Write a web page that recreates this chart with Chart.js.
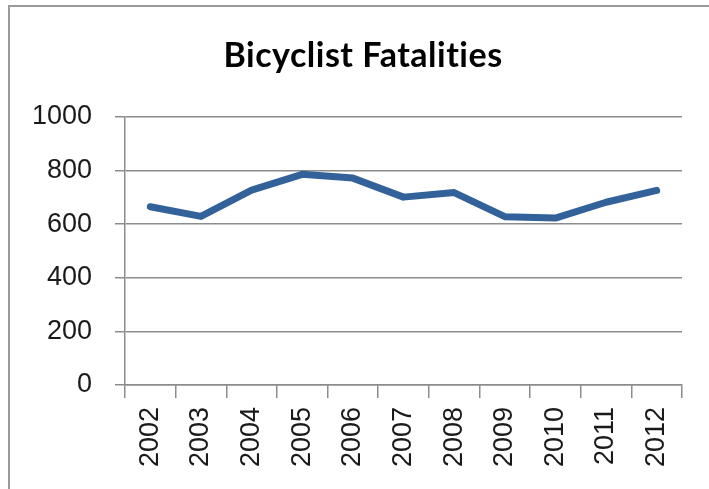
<!DOCTYPE html>
<html>
<head>
<meta charset="utf-8">
<script src="https://cdn.jsdelivr.net/npm/chart.js@4.4.1/dist/chart.umd.min.js"></script>
<style>
  html, body { margin: 0; padding: 0; background: #ffffff; }
  #wrap { position: relative; width: 709px; height: 489px; overflow: hidden; }
  #frame {
    position: absolute; left: 8px; top: 5px; width: 800px; height: 600px;
    border-left: 2px solid #9a9a9a; border-top: 2px solid #9a9a9a;
  }
  #c { position: absolute; left: 0; top: 0; }
</style>
</head>
<body>
<div id="wrap">
  <div id="frame"></div>
  <canvas id="c" width="709" height="489"></canvas>
</div>
<script>
// Bicyclist fatalities per year
const years = ['2002', '2003', '2004', '2005', '2006', '2007', '2008', '2009', '2010', '2011', '2012'];
const fatalities = [665, 629, 727, 786, 772, 701, 718, 628, 623, 682, 726];
const yTicks = [0, 200, 400, 600, 800, 1000];
const chartTitle = 'Bicyclist Fatalities';

const axisGrey = '#8c8c8c';
const labelFont = { family: '"Liberation Sans", Arial, sans-serif', size: 27 };

// Title centred over the whole chart frame (which starts at the left border)
const frameTitle = {
  id: 'frameTitle',
  afterDraw(chart) {
    const ctx = chart.ctx;
    ctx.save();
    ctx.font = 'bold 34px Lato, "Liberation Sans", sans-serif';
    if ('letterSpacing' in ctx) ctx.letterSpacing = '0.5px';
    ctx.fillStyle = '#000000';
    ctx.textAlign = 'center';
    ctx.textBaseline = 'alphabetic';
    ctx.fillText(chartTitle, 363, 67);
    ctx.restore();
  }
};

new Chart(document.getElementById('c'), {
  type: 'line',
  data: {
    labels: years,
    datasets: [{
      label: chartTitle,
      data: fatalities,
      borderColor: '#33629a',
      borderWidth: 7,
      borderCapStyle: 'round',
      borderJoinStyle: 'round',
      pointRadius: 0,
      pointHoverRadius: 0,
      tension: 0,
      fill: false
    }]
  },
  plugins: [frameTitle],
  options: {
    responsive: false,
    animation: false,
    events: [],
    layout: { padding: { left: 0, right: 27, top: 117, bottom: 0 } },
    plugins: {
      legend: { display: false },
      tooltip: { enabled: false },
      title: { display: false }
    },
    scales: {
      x: {
        type: 'category',
        offset: true,
        border: { display: true, color: axisGrey, width: 1.5 },
        grid: {
          offset: true,
          drawOnChartArea: false,
          drawTicks: true,
          tickLength: 13,
          color: axisGrey,
          lineWidth: 1.5
        },
        ticks: {
          minRotation: 90,
          maxRotation: 90,
          padding: 9,
          color: '#1a1a1a',
          font: labelFont
        },
        afterFit: (scale) => { scale.height = 104; }
      },
      y: {
        min: 0,
        max: 1000,
        border: { display: true, color: axisGrey, width: 1.5 },
        grid: {
          drawTicks: true,
          tickLength: 10,
          color: axisGrey,
          lineWidth: 1.5
        },
        afterBuildTicks: (scale) => { scale.ticks = yTicks.map(v => ({ value: v })); },
        ticks: {
          padding: 23,
          color: '#1a1a1a',
          font: labelFont,
          callback: (v) => String(v)
        },
        afterFit: (scale) => { scale.width = 125; }
      }
    }
  }
});
</script>
</body>
</html>
